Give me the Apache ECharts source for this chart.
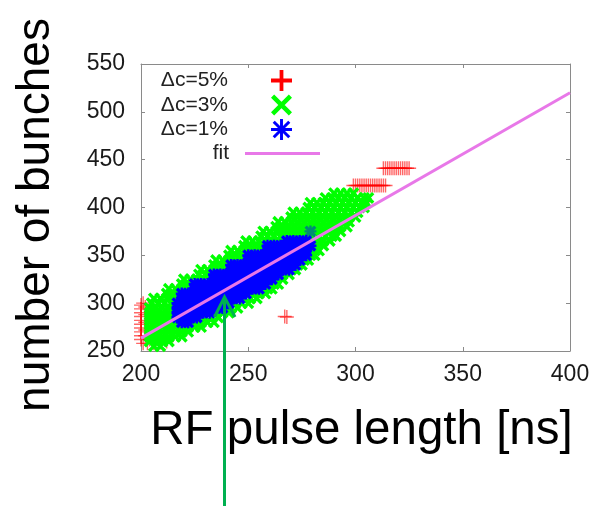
<!DOCTYPE html>
<html><head><meta charset="utf-8">
<script src="https://cdn.jsdelivr.net/npm/echarts@6/dist/echarts.min.js"></script>
<style>html,body{margin:0;padding:0;background:#fff;}#c{width:595px;height:506px;}</style>
</head><body><div id="c"></div>
<script>
// ---- axis ticks ----
const xTicks = [200, 250, 300, 350, 400];
const yTicks = [250, 300, 350, 400, 450, 500, 550];

// ---- series names ----
const seriesNames = ['\u0394c=5%', '\u0394c=3%', '\u0394c=1%', 'fit'];

// ---- Δc=5% (red +) points [pulse length, bunches] ----
const redPts = [
  [200,262],[200,266],[200,270],[200,274],[200,278],[200,282],[200,286],[200,290],[200,294],[200,298],
  [201,300],[202,296],[202,288],[202,280],[202,272],[202,266],
  [201,258],[203,258],[206,258],[209,259],[212,260],[204,262],[207,262],[210,264],
  [267,286],[268,285.5],
  [305,406],
  [299,423],[300,423],[301,423],[302,423],[303,423],[304,423],[305,423],[306,423],
  [307,423],[308,423],[309,423],[310,423],[311,423],[312,423],[313,423],[314,423],
  [313,441],[314,441],[315,441],[316,441],[317,441],[318,441],[319,441],
  [320,441],[321,441],[322,441],[323,441],[324,441],[325,441]
];

// ---- Δc=3% (green x) rows: [bunches, [pulse lengths]] ----
const greenRows = [
  [255,[206,209]],
  [260,[204,207,210,213]],
  [265,[204,207,210,213,216,219]],
  [270,[204,207,210,213,216,219,222]],
  [275,[204,207,210,213,216,219,222,225,228]],
  [280,[204,207,210,213,216,219,222,225,228,231,234]],
  [285,[204,207,210,213,216,227,230,233,236]],
  [290,[204,207,210,213,216,232,235,238,241]],
  [295,[204,207,210,213,216,236,239,242,245]],
  [300,[205,208,211,214,217,241,244,247,250]],
  [305,[206,209,212,215,218,245,248,251,254]],
  [310,[212,215,218,249,252,255,258]],
  [315,[213,216,219,222,225,253,256,259,261]],
  [320,[219,222,225,256,259,262,264]],
  [325,[220,223,226,229,232,235,260,263,266]],
  [330,[227,230,233,263,266,269]],
  [335,[228,231,234,237,240,243,267,270,272]],
  [340,[234,237,240,243,270,273,275]],
  [345,[235,238,241,244,247,250,273,276,278]],
  [350,[241,244,247,250,276,279,281]],
  [355,[242,245,248,251,254,257,260,278,281,283]],
  [360,[248,251,254,257,260,279,282,285]],
  [365,[249,252,255,258,261,264,267,270,279,282,285,288]],
  [370,[256,259,262,265,268,271,274,277,280,283,286,289,291]],
  [375,[257,260,263,266,269,272,275,278,281,284,287,290,293]],
  [380,[263,266,269,272,275,278,281,284,287,290,293,296]],
  [385,[264,267,270,273,276,279,282,285,288,291,294,297]],
  [390,[270,273,276,279,282,285,288,291,294,297,300]],
  [395,[271,274,277,280,283,286,289,292,295,298,301]],
  [400,[278,281,284,287,290,293,296,299,302,304]],
  [405,[279,282,285,288,291,294,297,300,303,305]],
  [410,[286,289,292,295,298,301,304,306]],
  [415,[290,293,296,299]]
];

// ---- Δc=1% (blue *) rows: [bunches, [pulse lengths]] ----
const blueRows = [
  [280,[219,222]],
  [285,[217,220,223,226]],
  [290,[217,220,223,226,229,232]],
  [295,[217,220,223,226,229,232,235,238]],
  [300,[217,220,223,226,229,232,235,238,241]],
  [305,[219,222,225,228,231,234,237,240,243,246]],
  [310,[219,222,225,228,231,234,237,240,243,246,249]],
  [315,[225,228,231,234,237,240,243,246,249,252,255]],
  [320,[225,228,231,234,237,240,243,246,249,252,255,258]],
  [325,[234,237,240,243,246,249,252,255,258,261]],
  [330,[234,237,240,243,246,249,252,255,258,261,264]],
  [335,[242,245,248,251,254,257,260,263,266,269]],
  [340,[242,245,248,251,254,257,260,263,266,269,272]],
  [345,[250,253,256,259,262,265,268,271,274]],
  [350,[250,253,256,259,262,265,268,271,274,277]],
  [355,[259,262,265,268,271,274,277]],
  [360,[259,262,265,268,271,274,277,279]],
  [365,[268,271,274,277]]
];
const blueFaint = [[279,375]];

// ---- fit line endpoints ----
const fitX = [200, 400];
const fitY = [263.5, 520];

// ---- build ----
const rowsToPts = rows => rows.flatMap(r => r[1].map(x => [x, r[0]]));
const greenPts = rowsToPts(greenRows);
const bluePts = rowsToPts(blueRows);

const FONT = "'Liberation Sans', Arial, sans-serif";
const plusThin = 'path://M4.5,0H5.5V4.5H10V5.5H5.5V10H4.5V5.5H0V4.5H4.5Z';
const plusThick = 'path://M4.1,0H5.9V4.1H10V5.9H5.9V10H4.1V5.9H0V4.1H4.1Z';
const xShape = 'path://M0,2L2,0L10,8L8,10Z M8,0L10,2L2,10L0,8Z';
const xLegend = 'path://M0,1.5L1.5,0L10,8.5L8.5,10Z M8.5,0L10,1.5L1.5,10L0,8.5Z';
const starShape = 'path://M4,0H6V10H4Z M0,6V4H10V6Z M0,2L2,0L10,8L8,10Z M8,0L10,2L2,10L0,8Z';
const starLegend = 'path://M4.3,0H5.7V10H4.3Z M0,5.7V4.3H10V5.7Z M0.8,1.8L1.8,0.8L9.2,8.2L8.2,9.2Z M8.2,0.8L9.2,1.8L1.8,9.2L0.8,8.2Z';

const chart = echarts.init(document.getElementById('c'), null, {renderer:'canvas'});
const axisGray = '#8a8a8a';
const baseX = {
  type:'value', min:xTicks[0], max:xTicks[xTicks.length-1], interval:xTicks[1]-xTicks[0],
  splitLine:{show:false},
  axisLine:{show:true, lineStyle:{color:axisGray, width:1}},
  axisTick:{show:true, inside:true, length:4, lineStyle:{color:axisGray}}
};
const baseY = {
  type:'value', min:yTicks[0], max:yTicks[yTicks.length-1], interval:yTicks[1]-yTicks[0],
  splitLine:{show:false},
  axisLine:{show:true, lineStyle:{color:axisGray, width:1}},
  axisTick:{show:true, inside:true, length:4, lineStyle:{color:axisGray}}
};

chart.setOption({
  animation:false,
  backgroundColor:'#ffffff',
  grid:{left:141, right:25, top:64, bottom:155, containLabel:false},
  xAxis:[
    Object.assign({}, baseX, {
      position:'bottom',
      axisLabel:{show:true, fontSize:23, color:'#1a1a1a', fontFamily:FONT, margin:12,
        formatter: v => xTicks.includes(v) ? String(v) : ''},
      name:'RF pulse length [ns]', nameLocation:'middle', nameGap:56,
      nameTextStyle:{fontSize:47.5, color:'#000', fontFamily:FONT, padding:[0,0,0,12]}
    }),
    Object.assign({}, baseX, {position:'top', axisLabel:{show:false}})
  ],
  yAxis:[
    Object.assign({}, baseY, {
      position:'left',
      axisLabel:{show:true, fontSize:23, color:'#1a1a1a', fontFamily:FONT, margin:16,
        formatter: v => yTicks.includes(v) ? String(v) : ''},
      name:'number of bunches', nameLocation:'middle', nameGap:82,
      nameTextStyle:{fontSize:46, color:'#000', fontFamily:FONT, padding:[0,15,0,0]}
    }),
    Object.assign({}, baseY, {position:'right', axisLabel:{show:false}})
  ],
  legend:[
    {
      data:[{name:seriesNames[0], icon:plusThick},{name:seriesNames[1], icon:xLegend},{name:seriesNames[2], icon:starLegend}],
      orient:'vertical', align:'right', left:151, top:70, padding:0,
      itemWidth:21, itemHeight:21, itemGap:3.5, selectedMode:false,
      itemStyle:{opacity:1},
      formatter: n => '{a|' + n + '}{b| }',
      textStyle:{fontSize:21, fontFamily:FONT, color:'#222',
        rich:{a:{width:77, align:'right', fontSize:21, fontFamily:FONT, color:'#222', lineHeight:21},
              b:{width:38, lineHeight:21}}}
    },
    {
      data:[{name:seriesNames[3], icon:'rect'}],
      orient:'vertical', align:'right', left:152, top:143, padding:0,
      itemWidth:75, itemHeight:3, selectedMode:false,
      formatter: n => '{a|' + n + '}{b| }',
      textStyle:{fontSize:21, fontFamily:FONT, color:'#222',
        rich:{a:{width:77, align:'right', fontSize:21, fontFamily:FONT, color:'#222', lineHeight:21},
              b:{width:11, lineHeight:21}}}
    }
  ],
  series:[
    {name:seriesNames[0], type:'scatter', data:redPts, symbol:plusThin, symbolSize:14, clip:false,
     itemStyle:{color:'#ff0000', opacity:0.6}, z:2},
    {name:seriesNames[1], type:'scatter', data:greenPts, symbol:xShape, symbolSize:12, clip:false,
     itemStyle:{color:'#00ff00', opacity:1}, z:3},
    {name:seriesNames[2], type:'scatter',
     data:bluePts.concat(blueFaint.map(p => ({value:p, itemStyle:{opacity:0.45}}))),
     symbol:starShape, symbolSize:12, clip:false,
     itemStyle:{color:'#0000ff', opacity:1}, z:4},
    {name:seriesNames[3], type:'line', data:fitX.map((x,i) => [x, fitY[i]]), symbol:'none',
     lineStyle:{color:'#e878e8', width:3}, itemStyle:{color:'#e878e8'}, z:5}
  ],
  graphic:[
    {type:'line', z:100, shape:{x1:224.5, y1:506, x2:224.5, y2:298},
     style:{stroke:'#00b050', lineWidth:3}},
    {type:'polyline', z:100, shape:{points:[[214.5,317],[224.5,297],[235,317]]},
     style:{stroke:'#00b050', lineWidth:3, fill:null}}
  ]
});
</script>
</body></html>
